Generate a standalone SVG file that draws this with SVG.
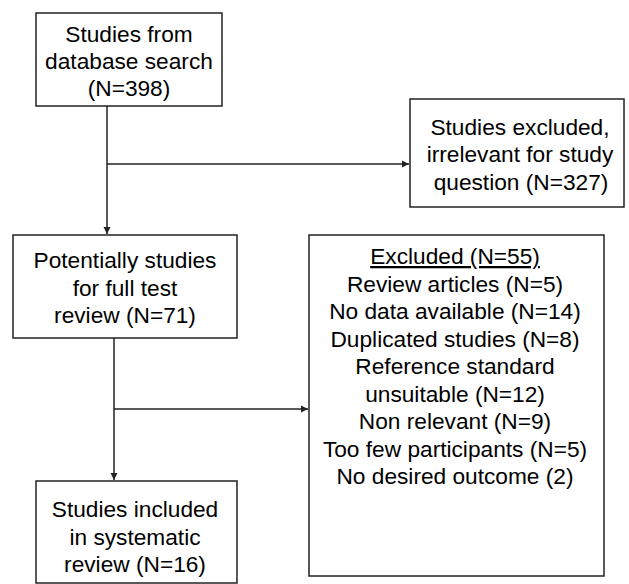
<svg xmlns="http://www.w3.org/2000/svg" width="629" height="584" viewBox="0 0 629 584">
<style>
.box{fill:#fff;stroke:#222;stroke-width:1.5}
.t{font-family:"Liberation Sans",Arial,sans-serif;font-size:22.7px;fill:#000;text-anchor:middle}
.c{fill:none;stroke:#222;stroke-width:1.5}
</style>
<defs>
<marker id="ah" markerWidth="8" markerHeight="8" refX="7" refY="4" orient="auto" markerUnits="userSpaceOnUse">
<path d="M0,0.5 L7,4 L0,7.5 Z" fill="#222"/>
</marker>
</defs>
<rect width="629" height="584" fill="#fff"/>
<g id="connectors">
<path class="c" d="M107,106 V234" marker-end="url(#ah)"/>
<path class="c" d="M107,164 H409" marker-end="url(#ah)"/>
<path class="c" d="M114,338 V480" marker-end="url(#ah)"/>
<path class="c" d="M114,409 H308" marker-end="url(#ah)"/>
</g>
<g id="n1">
<rect class="box" x="36" y="13" width="186" height="93"/>
<text class="t" x="129" y="42">Studies from</text>
<text class="t" x="129" y="69">database search</text>
<text class="t" x="129" y="96">(N=398)</text>
</g>
<g id="n2">
<rect class="box" x="410" y="99" width="214" height="108"/>
<text class="t" x="520" y="135">Studies excluded,</text>
<text class="t" x="520" y="162">irrelevant for study</text>
<text class="t" x="521" y="190">question (N=327)</text>
</g>
<g id="n3">
<rect class="box" x="13" y="235" width="224" height="103"/>
<text class="t" x="125" y="268">Potentially studies</text>
<text class="t" x="125" y="296">for full test</text>
<text class="t" x="125" y="323">review (N=71)</text>
</g>
<g id="n4">
<rect class="box" x="36" y="481" width="201" height="102"/>
<text class="t" x="135" y="517">Studies included</text>
<text class="t" x="135" y="545">in systematic</text>
<text class="t" x="135" y="572">review (N=16)</text>
</g>
<g id="n5">
<rect class="box" x="309" y="235" width="295" height="341"/>
<text class="t" x="455" y="264" text-decoration="underline">Excluded (N=55)</text>
<text class="t" x="455" y="291.5">Review articles (N=5)</text>
<text class="t" x="455" y="319">No data available (N=14)</text>
<text class="t" x="455" y="346.5">Duplicated studies (N=8)</text>
<text class="t" x="455" y="374">Reference standard</text>
<text class="t" x="455" y="401.5">unsuitable (N=12)</text>
<text class="t" x="455" y="429">Non relevant (N=9)</text>
<text class="t" x="455" y="456.5">Too few participants (N=5)</text>
<text class="t" x="455" y="484">No desired outcome (2)</text>
</g>
</svg>
